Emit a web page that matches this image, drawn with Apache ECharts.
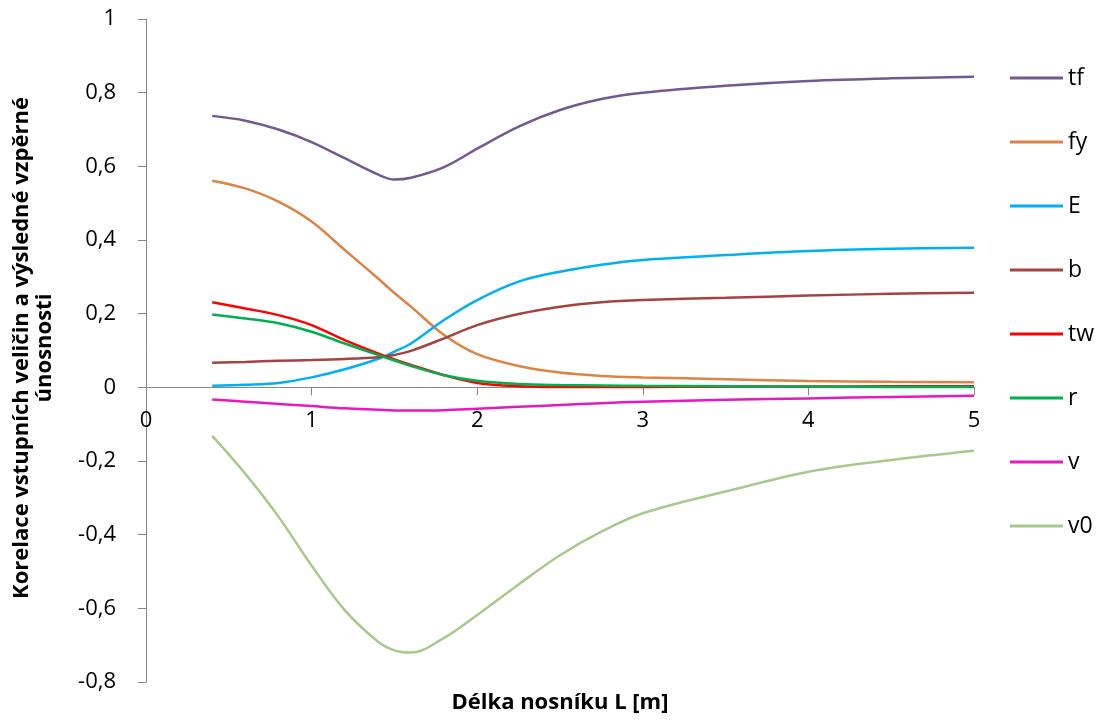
<!DOCTYPE html>
<html>
<head>
<meta charset="utf-8">
<script src="https://cdn.jsdelivr.net/npm/echarts@6/dist/echarts.min.js"></script>
<style>
html,body{margin:0;padding:0;background:#fff;}
#chart{width:1107px;height:720px;}
</style>
</head>
<body>
<div id="chart"></div>
<script>
const xValues = [0.4, 0.6, 0.8, 1.0, 1.2, 1.4, 1.5, 1.6, 1.8, 2.0, 2.25, 2.5, 2.75, 3, 3.5, 4, 4.5, 5];
const tf = [0.737, 0.724, 0.700, 0.666, 0.622, 0.578, 0.564, 0.569, 0.598, 0.648, 0.708, 0.753, 0.783, 0.800, 0.819, 0.832, 0.839, 0.843];
const fy = [0.561, 0.540, 0.504, 0.450, 0.373, 0.296, 0.256, 0.219, 0.142, 0.090, 0.058, 0.040, 0.031, 0.027, 0.022, 0.017, 0.015, 0.014];
const E  = [0.004, 0.007, 0.012, 0.027, 0.049, 0.077, 0.097, 0.119, 0.183, 0.237, 0.287, 0.314, 0.333, 0.346, 0.359, 0.370, 0.376, 0.379];
const b  = [0.067, 0.069, 0.072, 0.074, 0.077, 0.082, 0.088, 0.099, 0.133, 0.169, 0.199, 0.219, 0.231, 0.237, 0.243, 0.249, 0.254, 0.257];
const tw = [0.231, 0.214, 0.196, 0.169, 0.128, 0.092, 0.076, 0.061, 0.033, 0.012, 0.003, 0.001, 0.001, 0.001, 0.002, 0.002, 0.003, 0.003];
const r  = [0.198, 0.187, 0.174, 0.151, 0.119, 0.088, 0.073, 0.058, 0.033, 0.018, 0.009, 0.006, 0.005, 0.004, 0.003, 0.002, 0.001, 0.001];
const v  = [-0.033, -0.039, -0.045, -0.051, -0.057, -0.061, -0.063, -0.063, -0.062, -0.058, -0.053, -0.048, -0.043, -0.039, -0.034, -0.030, -0.026, -0.023];
const v0 = [-0.132, -0.235, -0.351, -0.484, -0.605, -0.690, -0.714, -0.720, -0.680, -0.618, -0.535, -0.456, -0.392, -0.342, -0.283, -0.229, -0.197, -0.172];

const seriesNames = ['tf', 'fy', 'E', 'b', 'tw', 'r', 'v', 'v0'];
const seriesData = [tf, fy, E, b, tw, r, v, v0];
const seriesColors = ['#72598F', '#DC8443', '#00B0F0', '#A4433F', '#FF0000', '#00B050', '#E619BE', '#A8C98C'];

const xTitle = 'Délka nosníku L [m]';
const yTitleLines = ['Korelace vstupních veličin a výsledné vzpěrné', 'únosnosti'];

const Y_MIN = -0.8, Y_MAX = 1;
const GRID = {left: 146, right: 133, top: 19, bottom: 38};
const PLOT_H = 720 - GRID.top - GRID.bottom;

const FONT = '"Open Sans", sans-serif';
const AXIS_COLOR = '#868686';

function fmt(val) {
  return String(Number(val.toFixed(1))).replace('.', ',');
}

const chart = echarts.init(document.getElementById('chart'), null, {renderer: 'canvas'});
chart.setOption({
  animation: false,
  backgroundColor: '#ffffff',
  textStyle: {fontFamily: FONT},
  grid: Object.assign({containLabel: false, outerBoundsMode: 'none'}, GRID),
  graphic: yTitleLines.map((line, i) => ({
    type: 'text',
    x: 22 + i * 23,
    y: 348,
    rotation: Math.PI / 2,
    style: {
      text: line,
      font: 'bold 22px "Open Sans", sans-serif',
      fill: '#000',
      align: 'center',
      verticalAlign: 'middle'
    }
  })),
  legend: {
    orient: 'vertical',
    left: 1010,
    top: 66,
    padding: 0,
    icon: 'rect',
    itemWidth: 53,
    itemHeight: 3,
    itemGap: 40,
    data: seriesNames,
    textStyle: {fontFamily: FONT, fontSize: 23, color: '#000', lineHeight: 24}
  },
  xAxis: {
    type: 'value',
    min: 0, max: 5, interval: 1,
    position: 'bottom',
    offset: -PLOT_H * (0 - Y_MIN) / (Y_MAX - Y_MIN),
    name: xTitle,
    nameLocation: 'middle',
    nameGap: 304,
    nameTextStyle: {fontFamily: FONT, fontSize: 22, fontWeight: 'bold', color: '#000'},
    axisLine: {onZero: false, lineStyle: {color: AXIS_COLOR, width: 1}},
    axisTick: {show: true, inside: false, length: 8, lineStyle: {color: AXIS_COLOR}},
    axisLabel: {fontFamily: FONT, fontSize: 22, color: '#000', margin: 22, formatter: fmt},
    splitLine: {show: false}
  },
  yAxis: {
    type: 'value',
    min: Y_MIN, max: Y_MAX, interval: 0.2,
    axisLine: {show: true, lineStyle: {color: AXIS_COLOR, width: 1}},
    axisTick: {show: true, inside: false, length: 8, lineStyle: {color: AXIS_COLOR}},
    axisLabel: {fontFamily: FONT, fontSize: 22, color: '#000', margin: 30, formatter: fmt},
    splitLine: {show: false}
  },
  series: seriesNames.map((name, i) => ({
    name: name,
    type: 'line',
    smooth: 0.35,
    symbol: 'none',
    color: seriesColors[i],
    lineStyle: {width: 2.5, color: seriesColors[i]},
    data: xValues.map((x, j) => [x, seriesData[i][j]])
  }))
});
</script>
</body>
</html>
